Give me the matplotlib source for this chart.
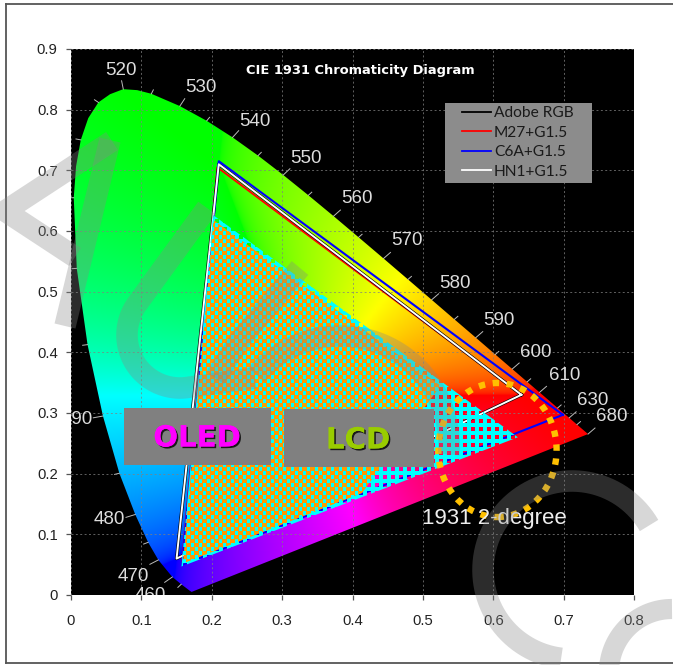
import numpy as np
import matplotlib
matplotlib.use("Agg")
import matplotlib.pyplot as plt
import matplotlib.patheffects as pe
from matplotlib.lines import Line2D
from matplotlib.patches import Polygon, Ellipse, Rectangle, PathPatch
from matplotlib.path import Path
from matplotlib.transforms import Affine2D

# spectral locus
locus_nm = [420, 430, 440, 450, 460, 470, 475, 480, 485, 490, 495, 500, 505, 507.5, 510, 512.5, 515, 517.5, 520,
            522.5, 525, 530, 535, 540, 545, 550, 555, 560, 565, 570, 575, 580, 585, 590, 595, 600, 605, 610, 620,
            630, 640, 680]
locus_x = [.1714, .1689, .1644, .1566, .1440, .1241, .1096, .0913, .0687, .0454, .0235, .0082, .0039, .0072, .0139,
           .0245, .0389, .0555, .0743, .0940, .1142, .1547, .1929, .2296, .2658, .3016, .3373, .3731, .4087, .4441,
           .4788, .5125, .5448, .5752, .6029, .6270, .6482, .6658, .6915, .7079, .7190, .7347]
locus_y = [.0051, .0069, .0109, .0177, .0297, .0578, .0868, .1327, .2007, .2950, .4127, .5384, .6548, .7066, .7502,
           .7860, .8120, .8255, .8338, .8322, .8262, .8059, .7816, .7543, .7243, .6923, .6589, .6245, .5896, .5547,
           .5202, .4866, .4544, .4242, .3965, .3725, .3514, .3340, .3083, .2920, .2809, .2653]

label_nm = [460, 470, 480, 490, 520, 530, 540, 550, 560, 570, 580, 590, 600, 610, 630, 680]
label_x = [.112, .088, .054, .009, .071, .185, .261, .334, .406, .477, .546, .608, .661, .701, .742, .769]
label_y = [.000, .030, .125, .290, .865, .836, .781, .720, .653, .584, .514, .453, .399, .361, .321, .295]

# gamut triangles (x, y)
adobe_x = [.64, .21, .15]
adobe_y = [.33, .71, .06]
m27_x = [.64, .208, .158]
m27_y = [.33, .705, .055]
c6a_x = [.699, .21, .158]
c6a_y = [.297, .715, .05]
hn1_x = [.64, .21, .15]
hn1_y = [.33, .71, .06]

# hatched regions
lcd_x = [.635, .2018, .157]
lcd_y = [.26, .6264, .047]
oled_x = [.525, .2025, .159, .4134]
oled_y = [.345, .618, .052, .168]

xticks = [0, .1, .2, .3, .4, .5, .6, .7, .8]
yticks = [0, .1, .2, .3, .4, .5, .6, .7, .8, .9]
xticklabels = ["0", "0.1", "0.2", "0.3", "0.4", "0.5", "0.6", "0.7", "0.8"]
yticklabels = ["0", "0.1", "0.2", "0.3", "0.4", "0.5", "0.6", "0.7", "0.8", "0.9"]

plt.rcParams["font.family"] = ["Liberation Sans", "DejaVu Sans"]

W, H = 673, 665
fig = plt.figure(figsize=(W / 100, H / 100), dpi=100, facecolor="white")
ax = fig.add_axes([71 / W, (H - 595) / H, 563 / W, 546 / H], facecolor="black")
px = Affine2D().scale(1 / W, -1 / H).translate(0, 1) + fig.transFigure

# horseshoe colours from xy, fully saturated
gx, gy = np.meshgrid(np.linspace(0, .8, 900), np.linspace(0, .9, 900))
gz = 1 - gx - gy
r = .8 * (2.0414 * gx - .5649 * gy - .3447 * gz)
g = -.9693 * gx + 1.8760 * gy + .0416 * gz
b = .0134 * gx - .1184 * gy + 1.0154 * gz
rgb = np.clip(np.dstack([r, g, b]), 0, None)
rgb = rgb - rgb.min(axis=2, keepdims=True)
rgb = rgb / np.maximum(rgb.max(axis=2, keepdims=True), 1e-6)
rgb[:, :, :2] = rgb[:, :, :2] ** (1 / 2.2)
im = ax.imshow(rgb, origin="lower", extent=[0, .8, 0, .9], aspect="auto", zorder=1)
im.set_clip_path(Polygon(np.column_stack([locus_x, locus_y]), closed=True, transform=ax.transData))

ax.set_xticks(xticks)
ax.set_yticks(yticks)
ax.set_xticklabels(xticklabels)
ax.set_yticklabels(yticklabels)
ax.tick_params(length=3.6, width=.9, color="#555555", labelsize=10.7, labelcolor="#222222", pad=6)
ax.xaxis.set_tick_params(pad=10)
ax.set_axisbelow(False)
ax.grid(True, color="#808080", lw=.7, ls=(0, (2, 2.5)), alpha=.75, zorder=2)
for s in ax.spines.values():
    s.set_visible(False)

# wavelength ticks and labels
lx, ly = np.array(locus_x), np.array(locus_y)
tx, ty = np.gradient(lx), np.gradient(ly)
norm = np.hypot(tx, ty)
nx, ny = ty / norm, -tx / norm
flip = nx * (lx - .33) + ny * (ly - .33) < 0
nx[flip] *= -1
ny[flip] *= -1
for i, nm in enumerate(locus_nm):
    if nm < 450 or nm % 5 != 0:
        continue
    n = .014 if nm in label_nm else .007
    ax.plot([lx[i], lx[i] + nx[i] * n], [ly[i], ly[i] + ny[i] * n], color="#bbbbbb", lw=.7, zorder=2)
for nm, x, y in zip(label_nm, label_x, label_y):
    ax.text(x, y, str(nm), color="#dddddd", fontsize=13.5, ha="center", va="center", zorder=3, clip_on=True)

ax.text(.411, .865, "CIE 1931 Chromaticity Diagram", color="white", family="DejaVu Sans", fontsize=9.4,
        fontweight="bold", ha="center", va="center", zorder=3)
ax.text(.601, .126, "1931 2-degree", color="#eeeeee", fontsize=16, ha="center", va="center", zorder=6)

# gamut outlines
ax.plot(m27_x + m27_x[:1], m27_y + m27_y[:1], color="red", lw=1.4, zorder=3, label="M27+G1.5")
ax.plot(adobe_x + adobe_x[:1], adobe_y + adobe_y[:1], color="black", lw=2.3, zorder=3.1, label="Adobe RGB")
ax.plot(c6a_x + c6a_x[:1], c6a_y + c6a_y[:1], color="#0000ff", lw=1.5, zorder=3.2, label="C6A+G1.5")
ax.plot(hn1_x + hn1_x[:1], hn1_y + hn1_y[:1], color="white", lw=1.4, zorder=3.3, label="HN1+G1.5")

# checker fills, one value per screen pixel, 4 px cells
ci, cj = np.meshgrid(np.arange(563), np.arange(546))
i3, j3 = ci // 4, cj // 4
checker = (i3 + j3) % 2 == 0
cyan_a = np.zeros(ci.shape + (4,))
cyan_a[checker | ((i3 % 2 == 1) & (j3 % 2 == 0))] = [0, 1, 1, 1]
orange_a = np.zeros(ci.shape + (4,))
orange_a[~checker | (ci % 4 == 3)] = [1, .6, 0, 1]
ext = [0, .8, 0, .9]
im1 = ax.imshow(cyan_a, origin="lower", extent=ext, aspect="auto", interpolation="nearest", zorder=4)
im1.set_clip_path(Polygon(np.column_stack([lcd_x, lcd_y]), closed=True, transform=ax.transData))
im2 = ax.imshow(orange_a, origin="lower", extent=ext, aspect="auto", interpolation="nearest", zorder=4.1)
im2.set_clip_path(Polygon(np.column_stack([oled_x, oled_y]), closed=True, transform=ax.transData))
ax.set_xlim(0, .8)
ax.set_ylim(0, .9)

ax.add_patch(Ellipse((.606, .239), .168, .221, fill=False, ec="#ffc000", lw=4.6, ls=(0, (1, 1.2)), zorder=5))

# OLED and LCD boxes
shadow = [pe.withSimplePatchShadow(offset=(1.2, -1.2), shadow_rgbFace="black", alpha=.8), pe.Normal()]
fig.add_artist(Rectangle((124, 408), 147, 57, transform=px, fc="#808080", ec="none", zorder=6))
fig.add_artist(Rectangle((284, 409), 150, 58, transform=px, fc="#808080", ec="none", zorder=6))
fig.text(197 / W, 1 - 438.5 / H, "OLED", family="DejaVu Sans", fontweight="bold", fontsize=21, color="#ff00ff",
         ha="center", va="center", path_effects=shadow, zorder=7)
fig.text(358 / W, 1 - 440.5 / H, "LCD", family="DejaVu Sans", fontweight="bold", fontsize=21, color="#99cc00",
         ha="center", va="center", path_effects=shadow, zorder=7)

# legend sits on its own grey box
ax.add_patch(Rectangle((445, 103), 147, 80, transform=px, fc="#8c8c8c", ec="none", zorder=7, clip_on=False))
h, l = ax.get_legend_handles_labels()
order = [1, 0, 2, 3]
leg = ax.legend([h[i] for i in order], [l[i] for i in order], loc="upper left", bbox_to_anchor=(.6945, .8956),
                borderaxespad=0, frameon=False, prop={"family": "Lato", "size": 11.2}, labelcolor="#1a1a1a",
                handlelength=1.86, handletextpad=.2, labelspacing=.36, borderpad=0)
leg.set_zorder(8)
for line in leg.get_lines():
    line.set_linewidth(1.3)

# outer frame
frame_c = "#555555"
fig.add_artist(Line2D([6, 6], [4, 663], transform=px, color=frame_c, lw=1.3, zorder=9))
fig.add_artist(Line2D([6, 673], [4, 4], transform=px, color=frame_c, lw=1.3, zorder=9))
fig.add_artist(Line2D([6, 673], [663, 663], transform=px, color=frame_c, lw=1.3, zorder=9))

# watermark strokes
def wm(pts, lw=15.5):
    fig.add_artist(PathPatch(Path(pts), transform=px, fill=False, ec="#878787", alpha=.33, lw=lw,
                             capstyle="butt", joinstyle="miter", zorder=20))

def arc(cx, cy, rad, a0, a1):
    a = np.radians(np.linspace(a0, a1, 80))
    return np.column_stack([cx + rad * np.cos(a), cy - rad * np.sin(a)])

wm([(112, 141), (5, 211), (75, 257)])
wm([(110, 140), (65, 326)])
wm(np.vstack([[(207, 208)], arc(180, 335, 53, 142, 280), [(255, 378)]]))
wm([(300, 268), (240, 340), (215, 378)])
wm(arc(340, 445, 109, 140, -5))
wm(arc(572, 570, 89, 30, 263))
wm(arc(672, 672, 63, 90, 185), lw=14.5)

fig.savefig("out.png", dpi=100)
